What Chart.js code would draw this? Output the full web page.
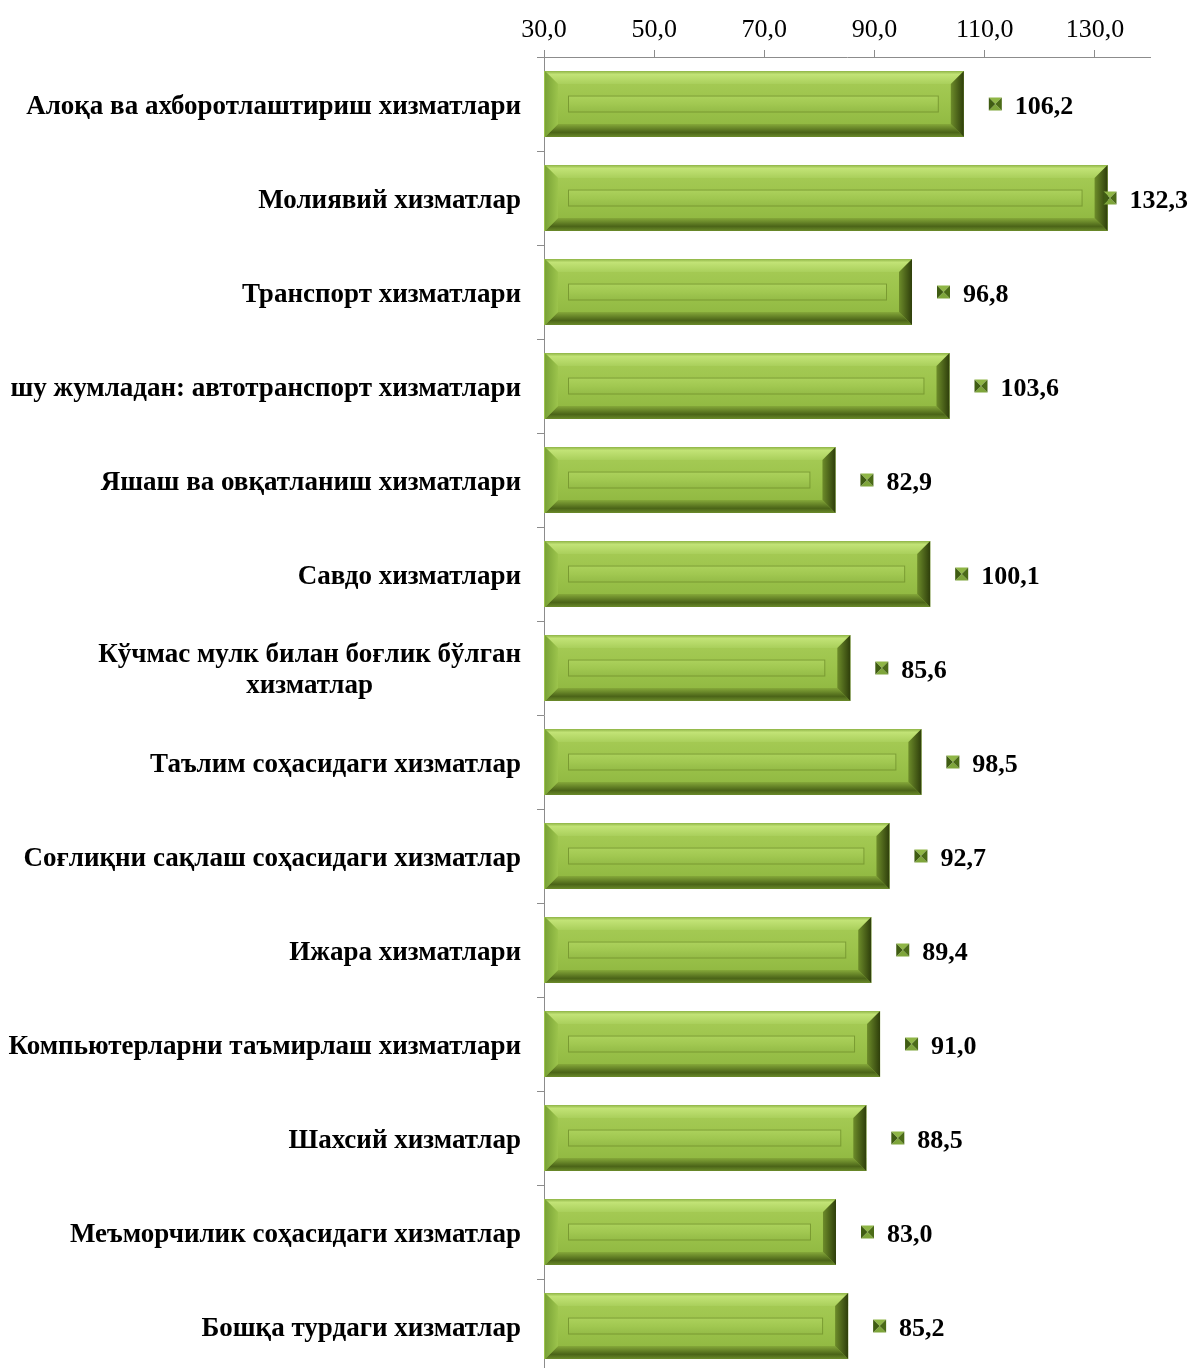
<!DOCTYPE html>
<html>
<head>
<meta charset="utf-8">
<script src="https://cdn.jsdelivr.net/npm/chart.js@4/dist/chart.umd.min.js"></script>
<style>
  html, body { margin: 0; padding: 0; background: #fff; overflow: hidden; }
  #wrap { position: relative; width: 1190px; height: 1380px; }
</style>
</head>
<body>
<div id="wrap"><canvas id="servicesChart"></canvas></div>
<script>
const categories = [
  'Алоқа ва ахборотлаштириш хизматлари',
  'Молиявий хизматлар',
  'Транспорт хизматлари',
  'шу жумладан: автотранспорт хизматлари',
  'Яшаш ва овқатланиш хизматлари',
  'Савдо хизматлари',
  ['Кўчмас мулк билан боғлик бўлган', 'хизматлар'],
  'Таълим соҳасидаги хизматлар',
  'Соғлиқни сақлаш соҳасидаги хизматлар',
  'Ижара хизматлари',
  'Компьютерларни таъмирлаш хизматлари',
  'Шахсий хизматлар',
  'Меъморчилик соҳасидаги хизматлар',
  'Бошқа турдаги хизматлар'
];
const values = [106.2, 132.3, 96.8, 103.6, 82.9, 100.1, 85.6, 98.5, 92.7, 89.4, 91.0, 88.5, 83.0, 85.2];
const xTicks = [30, 50, 70, 90, 110, 130];
const xMin = 30;
const xMax = 140;

const FONT = "'Liberation Serif', 'Times New Roman', serif";
const fmt = v => Number(v).toFixed(1).replace('.', ',');

function vGrad(ctx, y0, y1, stops) {
  const g = ctx.createLinearGradient(0, y0, 0, y1);
  stops.forEach(s => g.addColorStop(s[0], s[1]));
  return g;
}
function hGrad(ctx, x0, x1, stops) {
  const g = ctx.createLinearGradient(x0, 0, x1, 0);
  stops.forEach(s => g.addColorStop(s[0], s[1]));
  return g;
}
function poly(ctx, pts, fill) {
  ctx.beginPath();
  ctx.moveTo(pts[0][0], pts[0][1]);
  for (let i = 1; i < pts.length; i++) ctx.lineTo(pts[i][0], pts[i][1]);
  ctx.closePath();
  ctx.fillStyle = fill;
  ctx.fill();
}

// bevelled bar look, drawn over each bar element
const bevelBars = {
  id: 'bevelBars',
  afterDatasetsDraw(chart) {
    const ctx = chart.ctx;
    const area = chart.chartArea;
    const meta = chart.getDatasetMeta(0);
    ctx.save();
    meta.data.forEach(bar => {
      const p = bar.getProps(['x', 'y', 'base', 'height'], true);
      const l = Math.max(area.left, Math.min(p.base, p.x)) + 1;
      const r = Math.max(p.base, p.x);
      const t = p.y - p.height / 2, b = p.y + p.height / 2;
      const bw = 13, bh = 13;
      // face
      ctx.fillStyle = vGrad(ctx, t, b, [[0, '#a8cd58'], [0.5, '#9cc34b'], [1, '#8cb43e']]);
      ctx.fillRect(l, t, r - l, b - t);
      // top bevel
      poly(ctx, [[l, t], [r, t], [r - bw, t + bh], [l + bw, t + bh]],
        vGrad(ctx, t, t + bh, [[0, '#90b547'], [0.25, '#c2e376'], [1, '#a9cf5b']]));
      // bottom bevel
      poly(ctx, [[l, b], [r, b], [r - bw, b - bh], [l + bw, b - bh]],
        vGrad(ctx, b - bh, b, [[0, '#86a93a'], [0.65, '#4b6418'], [1, '#6a8a2a']]));
      // left bevel
      poly(ctx, [[l, t], [l + bw, t + bh], [l + bw, b - bh], [l, b]],
        hGrad(ctx, l, l + bw, [[0, '#79a236'], [1, '#9cc44c']]));
      // right bevel
      poly(ctx, [[r, t], [r - bw, t + bh], [r - bw, b - bh], [r, b]],
        hGrad(ctx, r - bw, r, [[0, '#6d8c2a'], [1, '#2e3e0b']]));
      // inner panel
      const il = l + 23, ir = r - 25, it = p.y - 8.5, ib = p.y + 8.5;
      if (ir > il) {
        ctx.fillStyle = vGrad(ctx, it, ib, [[0, '#add25d'], [0.5, '#a1c851'], [1, '#93ba46']]);
        ctx.fillRect(il, it, ir - il, ib - it);
        ctx.strokeStyle = '#7a9b32';
        ctx.lineWidth = 1;
        ctx.strokeRect(il + 0.5, it + 0.5, ir - il - 1, ib - it - 1);
      }
    });
    ctx.restore();
  }
};

// value labels with the little legend key in front
const valueLabels = {
  id: 'valueLabels',
  afterDatasetsDraw(chart) {
    const ctx = chart.ctx;
    const meta = chart.getDatasetMeta(0);
    ctx.save();
    ctx.font = 'bold 26px ' + FONT;
    ctx.textBaseline = 'middle';
    ctx.textAlign = 'left';
    meta.data.forEach((bar, i) => {
      const txt = fmt(values[i]);
      const tw = ctx.measureText(txt).width;
      let mx = bar.x + 25;
      const s = 13;
      if (mx + s + 13 + tw > chart.width - 2) mx = chart.width - 2 - tw - 13 - s;
      const my = bar.y - s / 2;
      const cx = mx + s / 2, cy = my + s / 2;
      poly(ctx, [[mx, my], [mx + s, my], [cx, cy]], '#8fb646');
      poly(ctx, [[mx, my + s], [mx + s, my + s], [cx, cy]], '#7ea53a');
      poly(ctx, [[mx, my], [mx, my + s], [cx, cy]], '#3f5c12');
      poly(ctx, [[mx + s, my], [mx + s, my + s], [cx, cy]], '#4b6b17');
      ctx.fillStyle = '#000';
      ctx.fillText(txt, mx + s + 13, bar.y + 3);
    });
    ctx.restore();
  }
};

// category labels, right aligned, wrapped lines centred on each other
const categoryLabels = {
  id: 'categoryLabels',
  afterDraw(chart) {
    const ctx = chart.ctx;
    const yScale = chart.scales.y;
    const right = chart.chartArea.left - 23;
    ctx.save();
    ctx.font = 'bold 27px ' + FONT;
    ctx.fillStyle = '#000';
    ctx.textBaseline = 'middle';
    ctx.textAlign = 'center';
    categories.forEach((lab, i) => {
      const lines = Array.isArray(lab) ? lab : [lab];
      const y = yScale.getPixelForValue(i);
      const maxW = Math.max(...lines.map(s => ctx.measureText(s).width));
      const cx = right - maxW / 2;
      const lh = 31;
      lines.forEach((s, k) => {
        ctx.fillText(s, cx, y + (k - (lines.length - 1) / 2) * lh + 3);
      });
    });
    ctx.restore();
  }
};

new Chart(document.getElementById('servicesChart'), {
  type: 'bar',
  data: {
    labels: categories,
    datasets: [{
      data: values,
      backgroundColor: '#9cc34b',
      borderWidth: 0,
      barPercentage: 0.7,
      categoryPercentage: 1.0
    }]
  },
  options: {
    indexAxis: 'y',
    responsive: true,
    maintainAspectRatio: false,
    animation: false,
    layout: { padding: { left: 537, right: 40, top: 0, bottom: 7 } },
    plugins: {
      legend: { display: false },
      tooltip: { enabled: false }
    },
    scales: {
      x: {
        position: 'top',
        min: xMin,
        max: xMax,
        afterBuildTicks: scale => { scale.ticks = xTicks.map(v => ({ value: v })); },
        afterFit: scale => { scale.height = 57; },
        border: { display: true, color: '#8c8c8c', width: 1 },
        grid: { drawOnChartArea: false, drawTicks: true, tickLength: 7, color: '#8c8c8c' },
        ticks: {
          padding: 4,
          color: '#000',
          font: { family: FONT, size: 26 },
          maxRotation: 0,
          callback: v => fmt(v)
        }
      },
      y: {
        border: { display: true, color: '#8c8c8c', width: 1 },
        grid: { drawOnChartArea: false, drawTicks: true, tickLength: 7, offset: true, color: '#8c8c8c' },
        ticks: { display: false }
      }
    }
  },
  plugins: [bevelBars, valueLabels, categoryLabels]
});
</script>
</body>
</html>
